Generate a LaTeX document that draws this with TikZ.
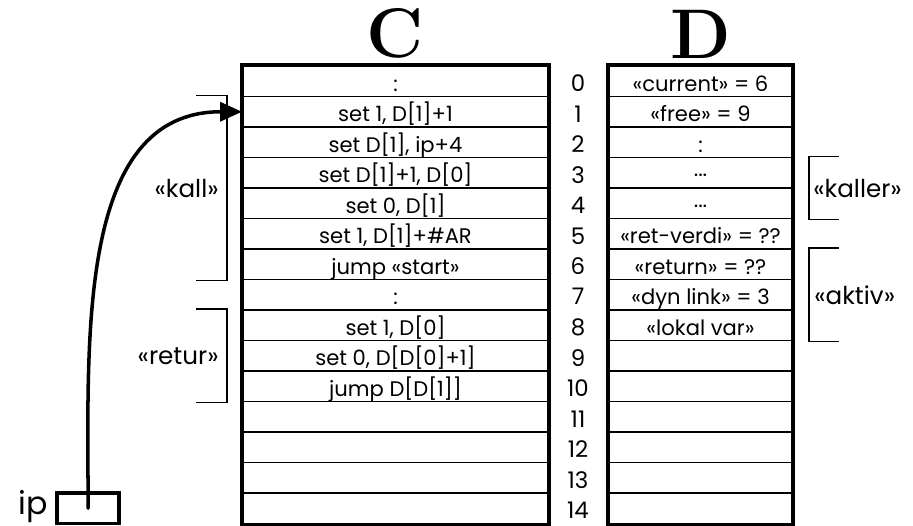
\documentclass[tikz,border=0pt]{standalone}
\usepackage{fontspec}
\newfontfamily\gothic{Poppins}
\usetikzlibrary{arrows.meta,positioning}

\begin{document}
\begin{tikzpicture}[node distance=0.61cm]
    \tikzstyle{ccell} = [rectangle, draw, line width=1.1pt, minimum width=6.1cm, minimum height=0.61cm, inner sep=0pt, text height=0.4cm, text depth=0cm, font=\gothic\fontsize{12}{13}\selectfont]
    \tikzstyle{dcell} = [ccell, minimum width=3.66cm]
    \tikzstyle{idx} = [inner sep=0pt, yshift=-0.04cm, font=\gothic\fontsize{13}{14}\selectfont]
    \tikzstyle{lbl} = [inner sep=0pt, font=\gothic\fontsize{14}{15}\selectfont]
    \tikzstyle{brak} = [line width=1pt]
    \tikzstyle{memtitle} = [inner sep=0pt, font=\fontsize{40}{40}\selectfont\bfseries]
    \tikzstyle{regbox} = [rectangle, draw, line width=2.2pt, minimum width=1.24cm, minimum height=0.61cm]
    \tikzstyle{flow} = [line width=2pt, line cap=round, -{Triangle[length=0.44cm, width=0.38cm]}]

    \useasboundingbox (0,0) rectangle (18.26,-10.5);

    % Program memory C
    \node [ccell] at (7.91,-1.625) (c0) {:};
    \node [ccell, below of=c0] (c1) {set 1, D[1]+1};
    \node [ccell, below of=c1] (c2) {set D[1], ip+4};
    \node [ccell, below of=c2] (c3) {set D[1]+1, D[0]};
    \node [ccell, below of=c3] (c4) {set 0, D[1]};
    \node [ccell, below of=c4] (c5) {set 1, D[1]+\#AR};
    \node [ccell, below of=c5] (c6) {jump «start»};
    \node [ccell, below of=c6] (c7) {:};
    \node [ccell, below of=c7] (c8) {set 1, D[0]};
    \node [ccell, below of=c8] (c9) {set 0, D[D[0]+1]};
    \node [ccell, below of=c9] (c10) {jump D[D[1]]};
    \node [ccell, below of=c10] (c11) {};
    \node [ccell, below of=c11] (c12) {};
    \node [ccell, below of=c12] (c13) {};
    \node [ccell, below of=c13] (c14) {};
    \draw [line width=2.2pt] (c0.north west) rectangle (c14.south east);

    % Addresses
    \node [idx, right of=c0, xshift=3.04cm] (n0) {0};
    \node [idx, right of=c1, xshift=3.04cm] (n1) {1};
    \node [idx, right of=c2, xshift=3.04cm] (n2) {2};
    \node [idx, right of=c3, xshift=3.04cm] (n3) {3};
    \node [idx, right of=c4, xshift=3.04cm] (n4) {4};
    \node [idx, right of=c5, xshift=3.04cm] (n5) {5};
    \node [idx, right of=c6, xshift=3.04cm] (n6) {6};
    \node [idx, right of=c7, xshift=3.04cm] (n7) {7};
    \node [idx, right of=c8, xshift=3.04cm] (n8) {8};
    \node [idx, right of=c9, xshift=3.04cm] (n9) {9};
    \node [idx, right of=c10, xshift=3.04cm] (n10) {10};
    \node [idx, right of=c11, xshift=3.04cm] (n11) {11};
    \node [idx, right of=c12, xshift=3.04cm] (n12) {12};
    \node [idx, right of=c13, xshift=3.04cm] (n13) {13};
    \node [idx, right of=c14, xshift=3.04cm] (n14) {14};

    % Data memory D
    \node [dcell, right of=n0, xshift=1.84cm, yshift=0.04cm] (d0) {«current» = 6};
    \node [dcell, below of=d0] (d1) {«free» = 9};
    \node [dcell, below of=d1] (d2) {:};
    \node [dcell, below of=d2] (d3) {···};
    \node [dcell, below of=d3] (d4) {···};
    \node [dcell, below of=d4] (d5) {«ret-verdi» = ??};
    \node [dcell, below of=d5] (d6) {«return» = ??};
    \node [dcell, below of=d6] (d7) {«dyn link» = 3};
    \node [dcell, below of=d7] (d8) {«lokal var»};
    \node [dcell, below of=d8] (d9) {};
    \node [dcell, below of=d9] (d10) {};
    \node [dcell, below of=d10] (d11) {};
    \node [dcell, below of=d11] (d12) {};
    \node [dcell, below of=d12] (d13) {};
    \node [dcell, below of=d13] (d14) {};
    \draw [line width=2.2pt] (d0.north west) rectangle (d14.south east);

    % Titles
    \node [memtitle, above=0.12cm of c0] (ctitle) {C};
    \node [memtitle, above=0.12cm of d0] (dtitle) {D};

    % Code blocks
    \draw [brak] ([xshift=-0.92cm]c1.north west) -- ([xshift=-0.3cm]c1.north west) -- ([xshift=-0.3cm]c6.south west) -- ([xshift=-0.92cm]c6.south west);
    \node [lbl, anchor=east] at ([xshift=-0.46cm]c3.south west) (kall) {«kall»};
    \draw [brak] ([xshift=-0.92cm]c8.north west) -- ([xshift=-0.3cm]c8.north west) -- ([xshift=-0.3cm]c10.south west) -- ([xshift=-0.92cm]c10.south west);
    \node [lbl, anchor=east] at ([xshift=-0.46cm]c9.west) (retur) {«retur»};

    % Frames
    \draw [brak] ([xshift=0.92cm]d3.north east) -- ([xshift=0.32cm]d3.north east) -- ([xshift=0.32cm]d4.south east) -- ([xshift=0.92cm]d4.south east);
    \node [lbl, anchor=west] at ([xshift=0.4cm]d3.south east) (kaller) {«kaller»};
    \draw [brak] ([xshift=0.92cm]d6.north east) -- ([xshift=0.32cm]d6.north east) -- ([xshift=0.32cm]d8.south east) -- ([xshift=0.92cm]d8.south east);
    \node [lbl, anchor=west] at ([xshift=0.42cm]d7.east) (aktiv) {«aktiv»};

    % Instruction pointer
    \node [regbox, left=2.42cm of c14] (ipreg) {};
    \node [lbl, font=\gothic\fontsize{18}{20}\selectfont, left=0.14cm of ipreg, yshift=0.04cm] (iplbl) {ip};
    \draw [flow] (ipreg.center) to[out=90, in=180] (c1.west);
\end{tikzpicture}
\end{document}
